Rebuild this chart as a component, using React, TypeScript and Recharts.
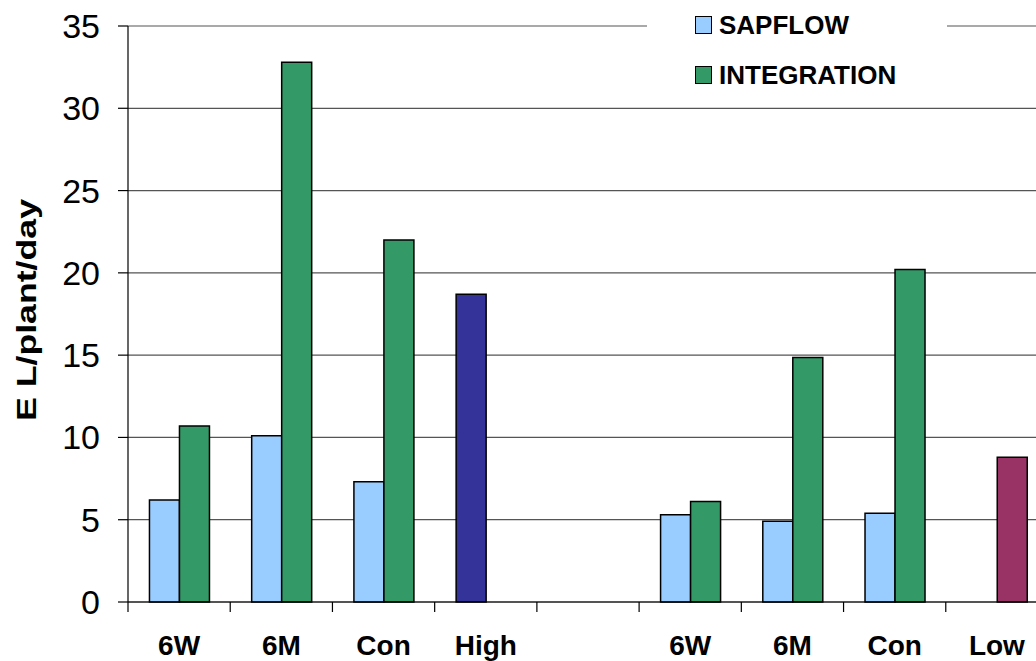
import {Bar, BarChart, CartesianGrid, Cell, Legend, XAxis, YAxis} from 'recharts';

const categories = ['6W', '6M', 'Con', 'High', '', '6W', '6M', 'Con', 'Low'];
const sapflow = [6.2, 10.1, 7.3, 18.7, null, 5.3, 4.9, 5.4, null];
const integration = [10.7, 32.8, 22.0, null, null, 6.1, 14.85, 20.2, 8.8];
const yTicks = [0, 5, 10, 15, 20, 25, 30, 35];

const data = categories.map((name, i) => ({
  name,
  sapflow: sapflow[i],
  integration: integration[i],
}));

const FONT = '"Liberation Sans", Arial, sans-serif';
const CHART_W = 1060;
const CHART_H = 661;
const Y_AXIS_W = 128;
const RIGHT = 12;
const BAND = (CHART_W - Y_AXIS_W - RIGHT) / categories.length;

const series = [
  {key: 'sapflow', name: 'SAPFLOW', color: '#99CCFF'},
  {key: 'integration', name: 'INTEGRATION', color: '#339966'},
];

// single bars coloured on their own
const special: Record<string, string> = {High: '#333399', Low: '#993366'};

function XTick(props: any) {
  const {x, y, payload} = props;
  const left = x - BAND / 2;
  return (
    <g>
      <line x1={left} x2={left} y1={y - 10} y2={y} stroke="#000" strokeWidth={1.2} />
      <text x={x} y={y + 43} textAnchor="middle" fontSize={28} fontWeight="bold" fontFamily={FONT} fill="#000">
        {payload.value}
      </text>
    </g>
  );
}

function YLabel(props: any) {
  const {viewBox} = props;
  const cy = viewBox.y + viewBox.height / 2 - 4;
  const cx = 26;
  return (
    <text
      x={cx}
      y={cy}
      transform={`rotate(-90 ${cx} ${cy})`}
      textAnchor="middle"
      dominantBaseline="central"
      fontSize={28}
      fontWeight="bold"
      fontFamily={FONT}
      fill="#000"
      textLength={222}
      lengthAdjust="spacingAndGlyphs"
    >
      E L/plant/day
    </text>
  );
}

function LegendBox() {
  return (
    <div style={{background: '#fff', width: 300, height: 100, fontFamily: FONT}}>
      {series.map((s) => (
        <div key={s.key} style={{display: 'flex', alignItems: 'center', height: 50, paddingLeft: 48}}>
          <span
            style={{
              display: 'inline-block',
              width: 15,
              height: 16,
              background: s.color,
              border: '1.5px solid #000',
              marginRight: 7,
            }}
          />
          <span style={{fontSize: 26, fontWeight: 'bold', color: '#000'}}>{s.name}</span>
        </div>
      ))}
    </div>
  );
}

export default function App() {
  return (
    <div
      style={{
        position: 'fixed',
        left: 0,
        top: 0,
        width: 1036,
        height: 661,
        overflow: 'hidden',
        background: '#fff',
      }}
    >
      <BarChart
        width={CHART_W}
        height={CHART_H}
        data={data}
        margin={{top: 26, right: RIGHT, left: 0, bottom: 0}}
        barCategoryGap="21%"
        barGap={0}
      >
        <CartesianGrid vertical={false} stroke="#555" strokeWidth={1.2} />
        <XAxis
          dataKey="name"
          height={CHART_H - 602}
          interval={0}
          tickSize={10}
          tickMargin={0}
          tickLine={false}
          axisLine={{stroke: '#000', strokeWidth: 1.2}}
          tick={<XTick />}
        />
        <YAxis
          width={Y_AXIS_W}
          domain={[0, 35]}
          ticks={yTicks}
          interval={0}
          tickSize={10}
          tickMargin={18}
          axisLine={{stroke: '#000', strokeWidth: 1.2}}
          tickLine={{stroke: '#000', strokeWidth: 1.2}}
          tick={{fontSize: 34, fill: '#000', fontFamily: FONT}}
          label={<YLabel />}
        />
        <Legend
          layout="horizontal"
          verticalAlign="middle"
          content={<LegendBox />}
          wrapperStyle={{left: 647, top: 0, width: 300, height: 100}}
        />
        {series.map((s) => (
          <Bar
            key={s.key}
            dataKey={s.key}
            name={s.name}
            fill={s.color}
            stroke="#000"
            strokeWidth={1.5}
            isAnimationActive={false}
          >
            {categories.map((c, i) => (
              <Cell key={i} fill={special[c] ?? s.color} />
            ))}
          </Bar>
        ))}
      </BarChart>
    </div>
  );
}
